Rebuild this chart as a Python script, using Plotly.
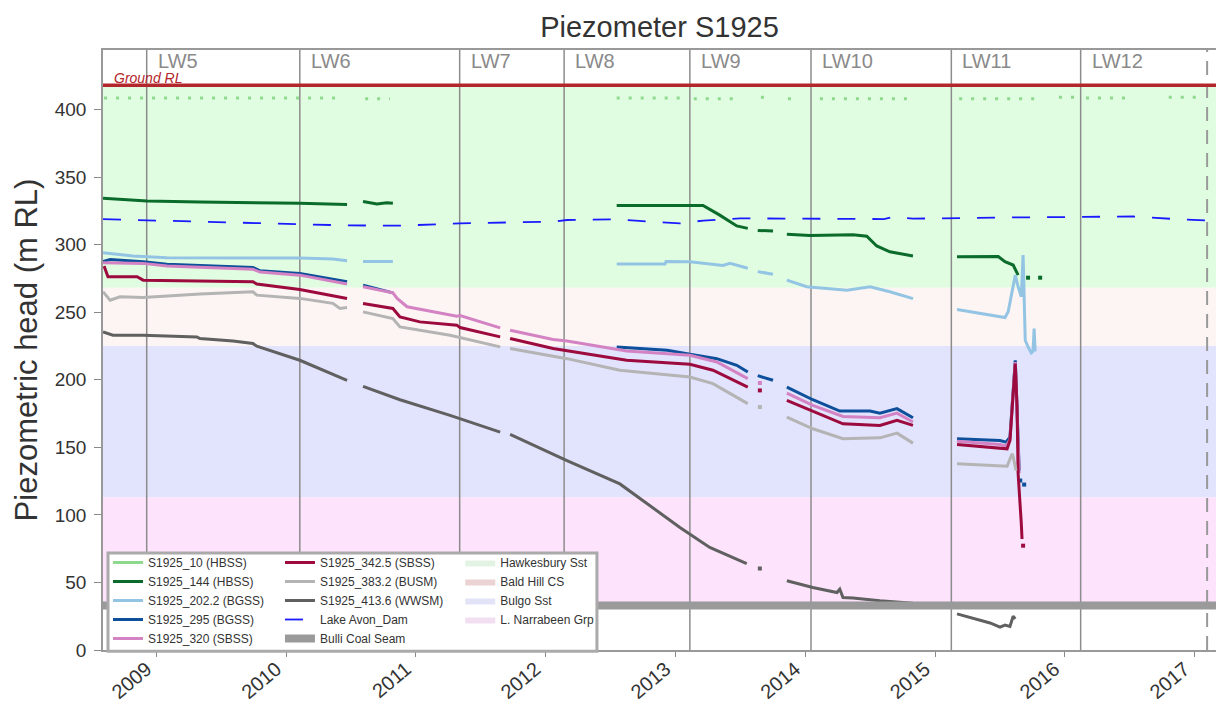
import plotly.graph_objects as go

FONT = "Arial, Liberation Sans, sans-serif"

# ---------------- data (dates / m RL); None marks a gap in the record ----------------
s10_d = ["2008-08-06", "2010-06-09", None, "2010-08-11", "2010-10-20", None,
         "2012-07-19", "2013-01-30", None, "2013-02-21", "2013-06-22", None,
         "2013-08-29", "2013-09-09", None, "2013-11-13", "2013-12-17", None,
         "2014-02-11", "2014-10-22", None, "2015-03-10", "2015-11-01", None,
         "2015-12-16", "2016-02-02", None, "2016-03-01", "2016-07-11", None,
         "2016-10-20", "2017-01-04"]
s10_v = [408.5, 408.5, None, 408, 408, None,
         408.5, 408.5, None, 408, 408, None,
         409, 409, None, 408, 408, None,
         408, 408, None, 408, 408, None,
         409, 409, None, 408.5, 408.5, None,
         409, 409]

s144_d = ["2008-08-03", "2008-10-27", "2008-12-05", "2009-05-03", "2010-02-08", "2010-06-21", None,
          "2010-08-05", "2010-09-13", "2010-10-11", "2010-10-28", None,
          "2012-07-19", "2013-03-19", "2013-05-04", "2013-06-22", "2013-07-23", None,
          "2013-08-20", "2013-10-02", None,
          "2013-11-10", "2014-01-14", "2014-05-15", "2014-06-23", "2014-07-21", "2014-08-27",
          "2014-10-31", None,
          "2015-03-04", "2015-06-28", "2015-07-17", "2015-08-09", "2015-08-23", None,
          "2015-09-20", None, "2015-10-24"]
s144_v = [334.3, 333, 332.3, 331.5, 330.6, 329.6, None,
          331.9, 330, 331, 330.6, None,
          328.9, 329, 322, 313.8, 312, None,
          310.5, 310, None,
          307.6, 306.8, 307.2, 306.2, 299, 294.7,
          291.5, None,
          291, 291.2, 287.4, 284.9, 277.4, None,
          275.5, None, 275.5]

s202_d = ["2008-08-03", "2008-10-27", "2009-01-30", "2010-02-08", "2010-05-12", "2010-06-21", None,
          "2010-08-05", "2010-10-28", None,
          "2012-07-19", "2012-12-02", "2012-12-05", "2013-02-10", "2013-05-14", "2013-06-03",
          "2013-07-23", None,
          "2013-08-20", "2013-10-02", None,
          "2013-11-10", "2014-01-05", "2014-04-28", "2014-07-02", "2014-08-27", "2014-10-31", None,
          "2015-03-04", "2015-07-03", "2015-07-17", "2015-07-26", "2015-08-06", "2015-08-15",
          "2015-08-23", "2015-09-01", "2015-09-06", "2015-09-12", "2015-09-20", "2015-09-29",
          "2015-10-04", "2015-10-07", "2015-10-10"]
s202_v = [294, 291.5, 290.3, 290, 289.3, 288, None,
          287.5, 287.5, None,
          285.6, 285.6, 287.5, 287.3, 284.6, 286.2,
          282.5, None,
          280, 278, None,
          273.7, 268.8, 266.3, 268.8, 265.1, 260, None,
          252, 247, 246, 250.3, 263.9, 277.4,
          268.8, 261.4, 292.3, 229.2, 224.3, 219.9,
          221, 237.9, 221]

s295_d = ["2008-08-03", "2008-08-23", "2008-11-24", "2009-01-30", "2009-09-29", "2009-10-19",
          "2010-02-08", "2010-06-21", None,
          "2010-08-05", "2010-10-28", None,
          "2012-07-19", "2012-12-08", "2013-02-10", "2013-04-27", "2013-06-22", "2013-07-23", None,
          "2013-08-20", "2013-10-02", None,
          "2013-11-10", "2014-01-22", "2014-04-08", "2014-07-02", "2014-07-30", "2014-09-16",
          "2014-10-31", None,
          "2015-03-04", "2015-07-03", "2015-07-20", "2015-07-31", "2015-08-15", "2015-08-20",
          "2015-08-26", None, "2015-08-29", None, "2015-09-09"]
s295_v = [287.5, 289, 287.3, 285.4, 283.1, 280.6,
          278.7, 272.6, None,
          270, 264.3, None,
          224.3, 221.8, 218.8, 215.6, 210.7, 205.7, None,
          203, 199.6, None,
          194.6, 185.2, 176.8, 176.8, 175.3, 178.6,
          171.9, None,
          156.3, 155, 153.8, 157.5, 214.4, 179.8,
          132.8, None, 125.4, None, 122.4]

s320_d = ["2008-08-03", "2008-11-24", "2009-01-30", "2009-09-29", "2009-10-19", "2010-02-08",
          "2010-06-21", None,
          "2010-08-05", "2010-10-28", "2010-11-09", "2010-12-07", "2011-04-26", "2011-05-05",
          "2011-08-26", None,
          "2011-09-23", "2012-01-22", "2012-03-01", "2012-08-16", "2013-02-10", "2013-04-27",
          "2013-07-23", None, "2013-08-26", None,
          "2013-11-10", "2014-01-22", "2014-04-17", "2014-07-30", "2014-09-16", "2014-10-31", None,
          "2015-03-04", "2015-07-03", "2015-07-20", "2015-07-31", "2015-08-15", "2015-08-20",
          "2015-08-26"]
s320_v = [286.6, 286.1, 284.1, 281.7, 279.7, 277.4,
          270.8, None,
          268.8, 264.3, 260.2, 254, 247, 247.5,
          238.4, None,
          236.6, 229.7, 228.7, 221.3, 218.1, 213.1,
          200.8, None, 197.6, None,
          190.1, 181, 172.8, 171.9, 175.3, 168.7, None,
          154.5, 152.1, 151, 155.5, 213, 179,
          131]

s342_d = ["2008-08-06", "2008-08-17", "2008-11-07", "2008-11-24", "2009-09-29", "2009-10-10",
          "2010-02-08", "2010-06-21", None,
          "2010-08-05", "2010-10-28", "2010-11-17", "2011-01-12", "2011-04-26", "2011-05-05",
          "2011-08-26", None,
          "2011-09-23", "2012-01-22", "2012-08-16", "2013-02-10", "2013-04-16", "2013-07-23", None,
          "2013-08-26", None,
          "2013-11-10", "2014-01-22", "2014-04-17", "2014-07-30", "2014-09-16", "2014-10-31", None,
          "2015-03-04", "2015-07-03", "2015-07-23", "2015-07-31", "2015-08-09", "2015-08-15",
          "2015-08-20", "2015-08-23", "2015-09-01", "2015-09-03", None, "2015-09-06"]
s342_v = [284.1, 276.2, 276.2, 273.7, 272.5, 270.8,
          266.8, 260.1, None,
          256.4, 252.7, 246.5, 242.8, 240.4, 238.6,
          231.7, None,
          230.5, 223.1, 214.4, 211.4, 207, 194.6, None,
          192.1, None,
          184.7, 176.8, 167.4, 166.2, 169.9, 166.2, None,
          152.1, 149.6, 148.9, 155, 192, 211.9,
          179.8, 130.4, 93.3, 82.1, None, 77.2]

s383_d = ["2008-08-03", "2008-08-23", "2008-09-20", "2008-11-24", "2009-05-03", "2009-09-29",
          "2009-10-10", "2010-02-08", "2010-05-12", "2010-06-01", "2010-06-21", None,
          "2010-08-05", "2010-10-28", "2010-11-17", "2011-01-12", "2011-04-07", "2011-08-26", None,
          "2011-09-23", "2012-03-01", "2012-07-28", "2013-02-10", "2013-04-16", "2013-07-23", None,
          "2013-08-26", None,
          "2013-11-10", "2014-01-22", "2014-04-17", "2014-07-30", "2014-09-16", "2014-10-31", None,
          "2015-03-04", "2015-07-03", "2015-07-23", "2015-08-06", "2015-08-09", "2015-08-17"]
s383_v = [265.1, 258.9, 261.4, 260.9, 263.4, 265.1,
          262.6, 260.2, 256.5, 252.7, 253.4, None,
          250.2, 245.3, 239.1, 236.6, 232.9, 224.3, None,
          223.1, 215.6, 207, 202, 197.1, 182.3, None,
          179.8, None,
          172.4, 163.7, 156.3, 157, 160.5, 153.1, None,
          137.8, 135.8, 136, 145.2, 143, 132.8]

s413_d = ["2008-08-03", "2008-08-31", "2008-11-24", "2009-04-24", "2009-05-03", "2009-08-04",
          "2009-09-29", "2009-10-10", "2010-02-08", "2010-04-25", "2010-05-26", "2010-06-21", None,
          "2010-08-05", "2010-11-17", "2011-04-07", "2011-05-05", "2011-08-26", None,
          "2011-09-23", "2012-03-01", "2012-07-28", "2012-10-01", "2013-01-13", "2013-04-07",
          "2013-07-20", None, "2013-08-26", None,
          "2013-11-10", "2014-01-22", "2014-03-31", "2014-04-08", "2014-04-17", "2014-05-15",
          "2014-07-30", "2014-10-31", None,
          "2015-03-04", "2015-06-05", "2015-07-03", "2015-07-17", "2015-07-31", "2015-08-09",
          "2015-08-15"]
s413_v = [235.4, 232.9, 232.9, 231.7, 230.5, 228.7,
          226.8, 224.8, 214.4, 205.7, 202, 199.6, None,
          195.1, 185.2, 173.6, 171.1, 161.2, None,
          159.5, 140.2, 122.9, 110.5, 90.7, 75.9,
          64, None, 60.3, None,
          51.2, 46.2, 42.5, 45, 38.8, 38.5,
          36.4, 34.6, None,
          26.7, 20, 17, 18.5, 17.5, 25,
          23]

avon_d = ["2008-08-03", "2008-12-05", "2009-05-03", "2010-02-08", "2010-06-21", "2010-11-17",
          "2011-05-05", "2012-01-22", "2012-03-01", "2012-07-19", "2012-09-20", "2013-01-13",
          "2013-03-20", "2013-07-01", "2014-08-10", "2014-09-05", "2014-10-31", "2015-07-03",
          "2016-03-01", "2016-07-11", "2016-11-01", "2017-03-01"]
avon_v = [318.8, 318, 317, 314.8, 314.2, 314,
          315.7, 317, 318.2, 318.8, 317.5, 315.7,
          317.8, 319.4, 318.9, 320.5, 319.2, 320,
          320.5, 320.8, 319, 317.5]

# geology / reference levels (m RL)
ground_rl = 418
coal_seam_rl = 33
band_names = ["Hawkesbury Sst", "Bald Hill CS", "Bulgo Sst", "L. Narrabeen Grp"]
band_bottom = [268, 225, 113, 35]
band_top = [418, 268, 225, 113]

# longwall start dates
lw_names = ["LW5", "LW6", "LW7", "LW8", "LW9", "LW10", "LW11", "LW12"]
lw_dates = ["2008-12-04", "2010-02-08", "2011-05-04", "2012-02-22", "2013-02-10",
            "2014-01-17", "2015-02-16", "2016-02-15"]
report_date = "2017-02-05"

x_range = ["2008-08-03", "2017-03-02"]

# ---------------- styling ----------------
band_fill = ["#e1fde1", "#fdf5f3", "#e2e3fc", "#fde3fc"]
band_swatch = ["#e3f3e3", "#ecd3d3", "#e3e3f8", "#f1dff1"]

series = [
    ("S1925_10 (HBSS)", s10_d, s10_v, "#8fd98f", 3, "3px,9px", "legend"),
    ("S1925_144 (HBSS)", s144_d, s144_v, "#0b6b2b", 3, "solid", "legend"),
    ("S1925_202.2 (BGSS)", s202_d, s202_v, "#93c4e4", 3, "solid", "legend"),
    ("S1925_295 (BGSS)", s295_d, s295_v, "#0d4f9a", 3, "solid", "legend"),
    ("S1925_320 (SBSS)", s320_d, s320_v, "#d383c4", 3, "solid", "legend"),
    ("S1925_342.5 (SBSS)", s342_d, s342_v, "#9c0a3e", 3, "solid", "legend2"),
    ("S1925_383.2 (BUSM)", s383_d, s383_v, "#b4b4b4", 3, "solid", "legend2"),
    ("S1925_413.6 (WWSM)", s413_d, s413_v, "#606060", 3, "solid", "legend2"),
]

fig = go.Figure()

for name, d, v, color, width, dash, leg in series:
    sparse = dash != "solid"
    fig.add_trace(go.Scatter(x=d, y=v, mode="lines", name=name, legend=leg,
                             showlegend=not sparse, legendgroup=name,
                             line=dict(color=color, width=width, dash=dash)))
    if sparse:
        # sparse record drawn dotted, but keyed with a plain line in the legend
        fig.add_trace(go.Scatter(x=[None], y=[None], mode="lines", name=name, legend=leg,
                                 legendgroup=name, line=dict(color=color, width=width)))
    # isolated readings between gaps would vanish in line mode -> draw as dots
    iso_x, iso_y = [], []
    for i, val in enumerate(v):
        if val is None:
            continue
        if (i == 0 or v[i - 1] is None) and (i == len(v) - 1 or v[i + 1] is None):
            iso_x.append(d[i])
            iso_y.append(val)
    if iso_x:
        fig.add_trace(go.Scatter(x=iso_x, y=iso_y, mode="markers", showlegend=False,
                                 legendgroup=name,
                                 marker=dict(color=color, size=4, symbol="square"),
                                 hoverinfo="skip"))

fig.add_trace(go.Scatter(x=avon_d, y=avon_v, mode="lines", name="Lake Avon_Dam", legend="legend2",
                         line=dict(color="#1a1aff", width=1.8, dash="18px,17px")))
fig.add_trace(go.Scatter(x=x_range, y=[coal_seam_rl, coal_seam_rl], mode="lines",
                         name="Bulli Coal Seam", legend="legend2",
                         line=dict(color="#9a9a9a", width=8)))
fig.add_trace(go.Scatter(x=x_range, y=[ground_rl, ground_rl], mode="lines", showlegend=False,
                         line=dict(color="#b3262b", width=3.5), hoverinfo="skip"))

# legend-only swatches for the strata
for name, col in zip(band_names, band_swatch):
    fig.add_trace(go.Scatter(x=[None], y=[None], mode="lines", name=name, legend="legend3",
                             fill="toself", fillcolor=col, line=dict(width=0, color=col)))

shapes = []
for lo, hi, col in zip(band_bottom, band_top, band_fill):
    shapes.append(dict(type="rect", xref="paper", yref="y", x0=0, x1=1, y0=lo, y1=hi,
                       fillcolor=col, line=dict(width=0), layer="below"))
for d in lw_dates:
    shapes.append(dict(type="line", xref="x", yref="paper", x0=d, x1=d, y0=0, y1=1,
                       line=dict(color="#8c8c8c", width=1.5), layer="below"))
shapes.append(dict(type="line", xref="x", yref="paper", x0=report_date, x1=report_date,
                   y0=0, y1=1, line=dict(color="#999999", width=2, dash="14px,9px"),
                   layer="below"))
# frame around the three legend columns
shapes.append(dict(type="rect", xref="paper", yref="paper", x0=0.0045, x1=0.4438,
                   y0=-0.002, y1=0.1617, fillcolor="white",
                   line=dict(color="#aaaaaa", width=3), layer="above"))

annotations = [dict(text=n, x=d, xref="x", y=0.982, yref="paper", xanchor="left",
                    yanchor="middle", xshift=9, showarrow=False,
                    font=dict(size=20, color="#8a8a8a"))
               for n, d in zip(lw_names, lw_dates)]
annotations.append(dict(text="<i>Ground RL</i>", x=0.008, xref="paper", y=ground_rl, yref="y",
                        xanchor="left", yanchor="bottom", yshift=-3, showarrow=False,
                        font=dict(size=14, color="#b3262b")))

leg_style = dict(yanchor="top", y=0.17, xanchor="left", bgcolor="rgba(0,0,0,0)",
                 borderwidth=0, font=dict(size=12, color="#333333", family=FONT),
                 itemwidth=30, tracegroupgap=0)

fig.update_layout(
    width=1216, height=705,
    margin=dict(l=103, r=0, t=50, b=55, autoexpand=False),
    paper_bgcolor="white", plot_bgcolor="white",
    font=dict(family=FONT, color="#333333"),
    title=dict(text="Piezometer S1925", x=0.5, xref="paper", y=0.962, yanchor="middle",
               font=dict(size=29, color="#333333")),
    xaxis=dict(type="date", range=x_range, dtick="M12", tick0="2009-01-01", tickformat="%Y",
               tickangle=-40, tickfont=dict(size=20), ticks="outside", ticklen=5,
               tickcolor="#888888", showline=True, linecolor="#999999", linewidth=1.5,
               mirror=True, showgrid=False, zeroline=False, automargin=False,
               ticklabelstandoff=-7, ticklabelshift=-10),
    yaxis=dict(range=[0, 444], dtick=50, tickfont=dict(size=19), ticks="outside", ticklen=7,
               tickcolor="#888888", showline=True, linecolor="#999999", linewidth=1.5,
               showgrid=False, zeroline=False, automargin=False, ticklabelstandoff=4,
               title=dict(text="Piezometric head (m RL)", font=dict(size=31), standoff=8)),
    shapes=shapes,
    annotations=annotations,
    legend=dict(x=0.0045, **leg_style),
    legend2=dict(x=0.159, **leg_style),
    legend3=dict(x=0.321, **leg_style),
    showlegend=True,
)

# the page is shown without the browser's default body margin
fig.write_html("out.html", config={"displayModeBar": False},
               post_script="document.body.style.margin='0';")
